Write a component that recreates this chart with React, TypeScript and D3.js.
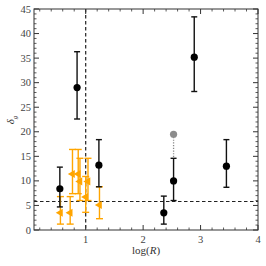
import React from "react";
import * as d3 from "d3";

const blackX = [0.55, 0.85, 1.23, 2.36, 2.53, 2.89, 3.45];
const blackY = [8.4, 29.0, 13.2, 3.5, 10.0, 35.2, 13.0];
const blackLo = [4.7, 22.6, 8.8, 1.2, 6.0, 28.2, 8.7];
const blackHi = [12.8, 36.3, 18.4, 6.9, 14.6, 43.4, 18.4];

const orangeX = [0.56, 0.73, 0.77, 0.87, 0.9, 1.04, 1.0, 1.24];
const orangeY = [3.5, 3.5, 11.4, 11.4, 9.9, 9.9, 6.7, 5.1];
const orangeLo = [1.2, 1.2, 7.4, 7.4, 6.0, 6.0, 3.6, 2.3];
const orangeHi = [6.8, 6.8, 16.4, 16.4, 14.6, 14.6, 10.9, 8.8];

const greyX = [2.53];
const greyY = [19.5];
const greyLink = [14.6];

const xMajor = [1, 2, 3, 4];
const yMajor = [0, 5, 10, 15, 20, 25, 30, 35, 40, 45];
const refX = 1;
const refY = 5.8;

export default function App() {
  const W = 266, H = 266;
  const L = 34, R = 258, T = 9, B = 230;
  const x = d3.scaleLinear().domain([0.1, 4]).range([L, R]);
  const y = d3.scaleLinear().domain([0, 45]).range([B, T]);
  const xMinor = d3.range(0.2, 4.001, 0.2).filter((v) => Math.abs(v - Math.round(v)) > 1e-6);
  const yMinor = d3.range(0, 45.001, 1).filter((v) => v % 5 !== 0);
  const axisCol = "#333";
  const font = "'Liberation Serif', 'DejaVu Serif', serif";
  const tri = d3.symbol().type(d3.symbolTriangle).size(28);
  return (
    <svg width={W} height={H} style={{ position: "absolute", left: 0, top: 0, background: "#fff" }}>
      <line x1={x(refX)} x2={x(refX)} y1={T} y2={B} stroke="#222" strokeWidth={1.2} strokeDasharray="3.5,2.5" />
      <line x1={L} x2={R} y1={y(refY)} y2={y(refY)} stroke="#222" strokeWidth={1.2} strokeDasharray="3.5,2.5" />
      {xMajor.map((v) => (
        <g key={"xm" + v}>
          <line x1={x(v)} x2={x(v)} y1={B} y2={B - 5} stroke={axisCol} />
          <line x1={x(v)} x2={x(v)} y1={T} y2={T + 5} stroke={axisCol} />
          <text x={x(v)} y={B + 13} textAnchor="middle" fontFamily={font} fontSize={10.5} fill="#444">{v}</text>
        </g>
      ))}
      {xMinor.map((v) => (
        <g key={"xn" + v}>
          <line x1={x(v)} x2={x(v)} y1={B} y2={B - 2.5} stroke={axisCol} strokeWidth={0.8} />
          <line x1={x(v)} x2={x(v)} y1={T} y2={T + 2.5} stroke={axisCol} strokeWidth={0.8} />
        </g>
      ))}
      {yMajor.map((v) => (
        <g key={"ym" + v}>
          <line x1={L} x2={L + 5} y1={y(v)} y2={y(v)} stroke={axisCol} />
          <line x1={R} x2={R - 5} y1={y(v)} y2={y(v)} stroke={axisCol} />
          <text x={L - 3} y={y(v) + 3.5} textAnchor="end" fontFamily={font} fontSize={10.5} fill="#444">{v}</text>
        </g>
      ))}
      {yMinor.map((v) => (
        <g key={"yn" + v}>
          <line x1={L} x2={L + 2.5} y1={y(v)} y2={y(v)} stroke={axisCol} strokeWidth={0.8} />
          <line x1={R} x2={R - 2.5} y1={y(v)} y2={y(v)} stroke={axisCol} strokeWidth={0.8} />
        </g>
      ))}
      {greyX.map((v, i) => (
        <g key={"g" + i}>
          <line x1={x(v)} x2={x(v)} y1={y(greyY[i])} y2={y(greyLink[i])} stroke="#888" strokeWidth={1.3} strokeDasharray="1.2,1.5" />
          <circle cx={x(v)} cy={y(greyY[i])} r={3.6} fill="#8c8c8c" />
        </g>
      ))}
      {orangeX.map((v, i) => (
        <g key={"o" + i} stroke="#FFA500" strokeWidth={1.4}>
          <line x1={x(v)} x2={x(v)} y1={y(orangeLo[i])} y2={y(orangeHi[i])} />
          <line x1={x(v) - 3.5} x2={x(v) + 3.5} y1={y(orangeLo[i])} y2={y(orangeLo[i])} />
          <line x1={x(v) - 3.5} x2={x(v) + 3.5} y1={y(orangeHi[i])} y2={y(orangeHi[i])} />
          <path d={tri() || ""} transform={`translate(${x(v)},${y(orangeY[i])}) rotate(-90)`} fill="#FFA500" stroke="none" />
        </g>
      ))}
      {blackX.map((v, i) => (
        <g key={"b" + i} stroke="#111" strokeWidth={1.4}>
          <line x1={x(v)} x2={x(v)} y1={y(blackLo[i])} y2={y(blackHi[i])} />
          <line x1={x(v) - 3} x2={x(v) + 3} y1={y(blackLo[i])} y2={y(blackLo[i])} />
          <line x1={x(v) - 3} x2={x(v) + 3} y1={y(blackHi[i])} y2={y(blackHi[i])} />
          <circle cx={x(v)} cy={y(blackY[i])} r={3.6} fill="#000" stroke="none" />
        </g>
      ))}
      <rect x={L} y={T} width={R - L} height={B - T} fill="none" stroke={axisCol} strokeWidth={1} />
      <text x={146} y={254} textAnchor="middle" fontFamily={font} fontSize={11} fill="#333">
        log(<tspan fontStyle="italic">R</tspan>)
      </text>
      <text transform="translate(14,120) rotate(-90)" textAnchor="middle" fontFamily={font} fontSize={11} fill="#333">
        <tspan fontStyle="italic">δ</tspan>
        <tspan fontSize={7} fontStyle="italic" dy={3}>g</tspan>
      </text>
    </svg>
  );
}
